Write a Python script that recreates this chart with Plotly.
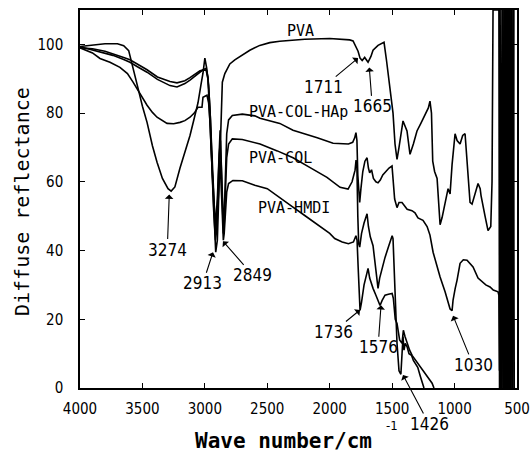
import plotly.graph_objects as go

# ---------------- data ----------------
pva_wn = [4000, 3900, 3800, 3700, 3650, 3610, 3583, 3560, 3535, 3500, 3463, 3420, 3383, 3340, 3295, 3270, 3240, 3199, 3160, 3119, 3085, 3055, 3030, 3015, 3000,
          2985, 2970, 2955, 2940, 2925, 2913, 2900, 2890, 2880, 2870, 2860, 2840, 2820, 2800, 2760, 2700, 2640, 2560, 2480, 2400, 2300, 2200, 2000, 1900, 1840,
          1813, 1790, 1773, 1757, 1740, 1720, 1693, 1670, 1653, 1613, 1580, 1565, 1545, 1520, 1493, 1477, 1461, 1445, 1413, 1381, 1357, 1330, 1301, 1270, 1237,
          1210, 1197, 1185, 1175, 1160, 1140, 1125, 1116, 1100, 1075, 1052, 1036, 1020, 996, 980, 956, 935, 916, 900, 876, 860, 844, 812, 795, 788, 756, 732,
          710, 700, 692, 645, 640, 635, 628, 620, 612, 605, 598, 590, 582, 575, 568, 560, 552, 545, 538, 530, 522]
pva_r = [99.4, 99.8, 100.2, 100.2, 99.6, 98.2, 94.5, 91.0, 87.2, 82.0, 77.3, 70.5, 65.7, 61.0, 58.0, 57.3, 58.5, 64.0, 68.5, 73.5, 78.5, 83.0, 88.5, 91.6, 96.0,
         93.0, 88.0, 78.0, 62.0, 46.0, 39.5, 43.0, 55.0, 72.0, 84.0, 89.0, 91.5, 93.0, 94.3, 95.5, 97.0, 98.3, 99.7, 100.5, 100.9, 101.3, 101.5, 101.7, 101.5, 101.3,
         101.0, 99.5, 98.0, 96.0, 95.3, 96.2, 94.8, 96.5, 98.3, 99.7, 100.3, 100.6, 95.3, 88.7, 80.0, 71.0, 66.5, 70.0, 77.7, 74.8, 68.0, 71.0, 74.8, 77.0, 79.7,
         81.5, 83.5, 80.0, 66.0, 63.0, 61.0, 52.0, 47.5, 49.6, 54.0, 58.0, 56.5, 65.0, 74.0, 72.0, 71.0, 73.5, 74.0, 66.0, 54.0, 53.5, 55.5, 59.5, 58.0, 56.0, 50.0, 45.8,
         47.0, 60.0, 110, 110, 0, 110, 0, 110, 0, 110, 0, 110, 0, 110, 0, 110, 0, 110, 0, 110, 0]

hap_wn = [4000, 3900, 3840, 3760, 3680, 3620, 3575, 3520, 3463, 3420, 3383, 3303, 3250, 3199, 3160, 3119, 3085, 3055, 3023, 3015, 2983,
          2970, 2958, 2945, 2930, 2915, 2900, 2888, 2878, 2865, 2852, 2845, 2835, 2825, 2810, 2780, 2700, 2600, 2558, 2400, 2294, 2200, 2100, 1973, 1900, 1850, 1816,
          1800, 1790, 1782, 1775, 1768, 1760, 1750, 1735, 1718, 1701, 1690, 1680, 1665, 1650, 1630, 1613, 1595, 1575, 1550, 1525, 1501, 1493, 1480, 1461, 1445, 1421,
          1400, 1380, 1341, 1317, 1293, 1253, 1220, 1197, 1172, 1140, 1116, 1076, 1050, 1036, 1020, 1012, 995, 980, 956, 930, 900, 870, 852, 812, 780, 750, 716, 690,
          652, 645, 640, 636, 632, 628, 622, 615, 608, 600, 592, 585, 578, 570, 562, 555, 548, 540, 532, 525]
hap_r = [99.0, 97.5, 95.9, 94.8, 93.3, 91.5, 89.0, 85.5, 82.3, 80.2, 78.8, 77.0, 76.9, 77.3, 77.8, 78.8, 80.0, 81.7, 81.7, 84.6, 85.2,
         83.0, 77.0, 66.0, 56.0, 47.0, 55.0, 70.0, 75.0, 62.0, 48.0, 50.0, 64.0, 74.0, 78.0, 79.3, 79.7, 79.2, 78.5, 77.0, 75.0, 74.0, 72.8, 71.2, 71.0, 71.0, 71.5,
         72.8, 74.3, 72.0, 62.0, 56.0, 54.0, 58.0, 63.0, 66.0, 67.0, 64.0, 62.6, 63.5, 61.0, 60.0, 59.7, 60.5, 62.0, 63.0, 64.0, 64.6, 60.0, 55.0, 52.5, 54.0, 54.0,
         53.0, 52.0, 51.6, 51.0, 49.5, 48.8, 47.0, 44.5, 39.5, 35.0, 32.3, 28.0, 25.0, 23.0, 22.5, 25.6, 29.0, 31.4, 36.3, 37.3, 37.2, 36.0, 35.2, 32.0, 31.0, 30.0, 29.4, 28.5,
         28.0, 27.0, 5, 40, 0, 45, 0, 110, 0, 110, 0, 110, 0, 110, 0, 110, 0, 110, 0, 110, 0]

col_wn = [4000, 3900, 3800, 3736, 3650, 3600, 3540, 3463, 3380, 3279, 3223, 3160, 3119, 3039, 3015, 2990,
          2975, 2960, 2945, 2930, 2915, 2900, 2885, 2875, 2865, 2852, 2845, 2835, 2825, 2810, 2780, 2700, 2558, 2420, 2294, 2150, 2022, 1917, 1853, 1821,
          1797, 1789, 1782, 1775, 1768, 1760, 1745, 1725, 1701, 1690, 1675, 1653, 1635, 1613, 1600, 1580, 1557, 1530, 1500, 1493, 1480, 1461, 1445, 1430,
          1413, 1405, 1395, 1380, 1365, 1345, 1330, 1310, 1295, 1275, 1255, 1245]
col_r = [99.3, 98.4, 97.5, 96.8, 95.6, 94.8, 93.5, 91.9, 89.8, 88.0, 87.6, 88.6, 89.6, 92.0, 92.6, 93.0,
         90.5, 82.0, 68.0, 55.0, 45.0, 52.0, 68.0, 72.0, 58.0, 45.0, 48.0, 60.0, 67.0, 71.0, 72.5, 72.3, 71.0, 69.0, 67.0, 64.0, 61.3, 58.4, 57.9, 60.0,
         63.4, 66.3, 64.0, 50.0, 42.0, 41.0, 45.0, 48.0, 50.7, 47.0, 44.0, 41.4, 35.0, 29.0, 32.0, 35.0, 38.0, 41.0, 44.3, 43.5, 30.0, 13.0, 5.0, 4.0,
         15.0, 11.0, 13.0, 12.0, 10.0, 9.5, 8.0, 7.0, 6.0, 3.5, 1.0, 0.0]

hmdi_wn = [4000, 3900, 3800, 3736, 3650, 3600, 3540, 3463, 3380, 3279, 3223, 3160, 3119, 3039, 3015, 2990,
           2975, 2960, 2945, 2930, 2915, 2905, 2890, 2878, 2865, 2852, 2845, 2835, 2825, 2810, 2775, 2700, 2600, 2500, 2400, 2300, 2200, 2100, 2000, 1960, 1900,
           1850, 1810, 1790, 1781, 1772, 1765, 1757, 1745, 1725, 1705, 1693, 1680, 1665, 1653, 1630, 1610, 1597, 1580, 1557, 1530, 1500, 1490, 1475, 1461, 1440,
           1421, 1410, 1397, 1380, 1360, 1340, 1320, 1293, 1270, 1237, 1210, 1180, 1165]
hmdi_r = [99.0, 98.7, 98.0, 97.3, 96.2, 95.5, 94.2, 92.6, 90.5, 89.2, 88.8, 89.4, 90.3, 92.3, 92.5, 92.5,
          90.0, 80.0, 66.0, 52.0, 43.0, 46.0, 60.0, 66.0, 55.0, 43.0, 45.0, 52.0, 57.0, 59.5, 60.4, 60.3, 59.0, 58.0, 55.5, 52.8, 50.2, 47.5, 45.0, 43.5, 42.5,
          42.0, 42.5, 44.3, 43.0, 35.0, 28.0, 22.6, 25.0, 30.0, 33.0, 34.8, 32.0, 30.0, 29.0, 27.0, 25.0, 24.0, 25.5, 27.0, 27.3, 27.5, 26.0, 20.0, 18.8, 14.0,
          13.0, 16.8, 15.0, 13.0, 11.0, 9.5, 8.5, 7.2, 6.0, 4.3, 3.0, 1.4, 0.0]

series_names = ["PVA", "PVA-COL-HAp", "PVA-COL", "PVA-HMDI"]
series_wn = [pva_wn, hap_wn, col_wn, hmdi_wn]
series_r = [pva_r, hap_r, col_r, hmdi_r]

# curve labels: (text, wavenumber, reflectance)
curve_labels = [("PVA", 2238, 104.0), ("PVA-COL-HAp", 2254, 80.2),
                ("PVA-COL", 2398, 66.9), ("PVA-HMDI", 2286, 52.3)]

# peak labels: (text, peak wavenumber, reflectance at arrow tip, label dx px, label dy px)
peak_labels = [("3274", 3285, 56.3, -2, 55), ("2913", 2935, 39.5, -10, 31),
               ("2849", 2855, 42.7, 30, 34), ("1711", 1773, 96.0, -35, 29),
               ("1665", 1683, 93.3, 3, 39), ("1736", 1757, 22.7, -27, 22),
               ("1576", 1589, 24.1, -3, 42), ("1426", 1413, 3.8, 26, 49),
               ("1030", 1012, 21.0, 20, 49)]

x_ticks = [4000, 3500, 3000, 2500, 2000, 1500, 1000, 500]
y_ticks = [0, 20, 40, 60, 80, 100]

# ---------------- figure ----------------
fig = go.Figure()
for name, wn, r in zip(series_names, series_wn, series_r):
    fig.add_trace(go.Scatter(x=wn, y=r, mode="lines", name=name,
                             line=dict(color="black", width=1.6), showlegend=False))

narrow = "Liberation Sans Narrow, DejaVu Sans Condensed, Liberation Sans, sans-serif"
mono = "DejaVu Sans Mono, monospace"

for text, x, y in curve_labels:
    fig.add_annotation(x=x, y=y, text=text, showarrow=False,
                       font=dict(family=mono, size=15, color="black"))

for text, x, y, dx, dy in peak_labels:
    fig.add_annotation(x=x, y=y, text=text, showarrow=True, ax=dx, ay=dy,
                       arrowhead=1, arrowsize=1.3, arrowwidth=1.1, arrowcolor="black",
                       standoff=0, borderpad=0, font=dict(family=narrow, size=17, color="black"))

fig.add_annotation(xref="paper", yref="paper", x=(283 - 80) / 437, y=(388 - 441) / 378,
                   text="<b>Wave number/cm</b>", showarrow=False, xanchor="center", yanchor="middle",
                   borderpad=0, font=dict(family=mono, size=21, color="black"))
fig.add_annotation(xref="paper", yref="paper", x=(392 - 80) / 437, y=(388 - 425) / 378,
                   text="-1", showarrow=False, xanchor="center", yanchor="middle",
                   borderpad=0, font=dict(family=narrow, size=13, color="black"))
fig.add_annotation(xref="paper", yref="paper", x=(22 - 80) / 437, y=(388 - 202) / 378,
                   text="Diffuse reflectance", showarrow=False, textangle=-90,
                   xanchor="center", yanchor="middle",
                   font=dict(family=mono, size=20, color="black"))

axis_common = dict(showgrid=False, zeroline=False, showline=True, linecolor="black",
                   linewidth=1.5, mirror="ticks", ticks="inside", tickcolor="black",
                   tickwidth=1.3, ticklen=5, automargin=False,
                   tickfont=dict(family=narrow, size=15, color="black"))
fig.update_xaxes(range=[4000, 500], tickvals=x_ticks, ticklabelstandoff=6, **axis_common)
fig.update_yaxes(range=[0, 110], tickvals=y_ticks, ticklabelstandoff=12, **axis_common)

fig.update_layout(width=530, height=453, margin=dict(l=80, r=13, t=10, b=65, autoexpand=False),
                  paper_bgcolor="white", plot_bgcolor="white", showlegend=False)

fig.write_html("out.html", config={"displayModeBar": False},
               post_script="document.body.style.margin='0px';")
